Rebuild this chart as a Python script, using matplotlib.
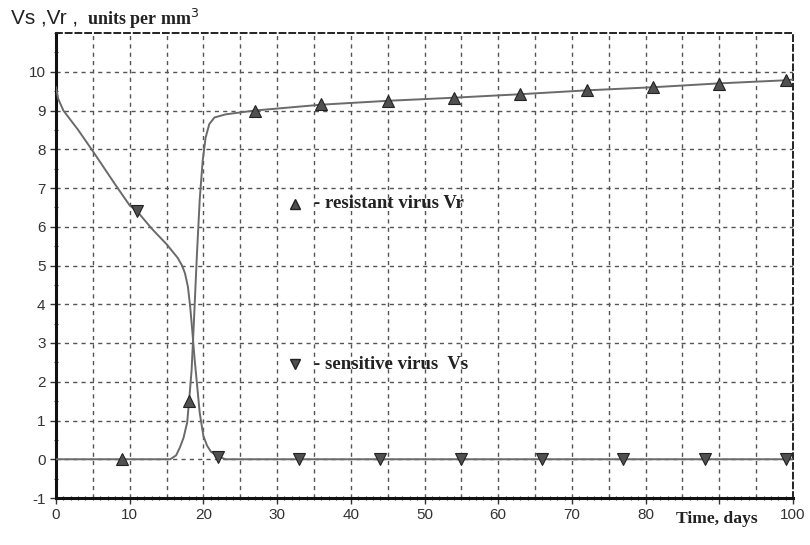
import matplotlib
matplotlib.use("Agg")
import matplotlib.pyplot as plt
from matplotlib.ticker import MultipleLocator

# ---- data ----
vs_curve_x = [0, 0.3, 1, 3, 5, 8, 10, 11, 13, 15, 16.5, 17.1, 17.5, 17.9, 18.2, 18.5, 18.8, 19.1, 19.5, 20, 20.5, 21, 22, 23, 100]
vs_curve_y = [9.6, 9.3, 9.0, 8.5, 7.95, 7.1, 6.55, 6.4, 5.95, 5.55, 5.2, 5.0, 4.8, 4.45, 3.95, 3.3, 2.6, 2.0, 1.2, 0.6, 0.35, 0.2, 0.07, 0, 0]

vr_curve_x = [0, 15.5, 16.3, 16.8, 17.3, 17.8, 18.1, 18.4, 18.7, 19.1, 19.5, 19.9, 20.3, 20.8, 21.5, 23, 25, 27, 36, 45, 54, 63, 72, 81, 90, 99, 100]
vr_curve_y = [0, 0, 0.1, 0.3, 0.55, 0.95, 1.6, 2.3, 3.5, 5.2, 6.7, 7.7, 8.3, 8.65, 8.82, 8.9, 8.95, 9.0, 9.15, 9.25, 9.33, 9.42, 9.52, 9.6, 9.7, 9.78, 9.8]

vr_mark_x = [9, 18, 27, 36, 45, 54, 63, 72, 81, 90, 99]
vr_mark_y = [0, 1.5, 9.0, 9.17, 9.25, 9.33, 9.42, 9.52, 9.6, 9.69, 9.78]

vs_mark_x = [11, 22, 33, 44, 55, 66, 77, 88, 99]
vs_mark_y = [6.4, 0.05, 0, 0, 0, 0, 0, 0, 0]

x_ticks = [0, 10, 20, 30, 40, 50, 60, 70, 80, 90, 100]
x_tick_labels = ["0", "10", "20", "30", "40", "50", "60", "70", "80", "", "100"]
y_ticks = [-1, 0, 1, 2, 3, 4, 5, 6, 7, 8, 9, 10]
y_tick_labels = ["-1", "0", "1", "2", "3", "4", "5", "6", "7", "8", "9", "10"]

W, H = 810, 545
fig = plt.figure(figsize=(W / 100, H / 100), dpi=100)
ax = fig.add_axes([56 / W, 1 - 498 / H, (793 - 56) / W, (498 - 33) / H])

line_col = "#6a6a6a"
mark_fc = "#505050"
mark_ec = "#222222"

ax.plot(vs_curve_x, vs_curve_y, color=line_col, lw=1.4, zorder=3)
ax.plot(vr_curve_x, vr_curve_y, color=line_col, lw=1.4, zorder=3)
ax.plot(vr_mark_x, vr_mark_y, ls="none", marker="^", ms=9, mfc=mark_fc, mec=mark_ec, mew=0.8, zorder=4)
ax.plot(vs_mark_x, vs_mark_y, ls="none", marker="v", ms=9, mfc=mark_fc, mec=mark_ec, mew=0.8, zorder=4)

ax.set_xlim(0, 100)
ax.set_ylim(-1, 11)
ax.set_xticks(x_ticks)
ax.set_xticklabels(x_tick_labels)
ax.set_yticks(y_ticks)
ax.set_yticklabels(y_tick_labels)
ax.xaxis.set_minor_locator(MultipleLocator(1))
ax.yaxis.set_minor_locator(MultipleLocator(0.5))

# grid: dashed every 5 on x, every 1 on y
for gx in range(5, 100, 5):
    ax.axvline(gx, color="#555555", lw=1.0, ls=(0, (3, 3)), zorder=1)
for gy in range(0, 11):
    ax.axhline(gy, color="#555555", lw=1.0, ls=(0, (3, 3)), zorder=1)

for s in ["left", "bottom"]:
    ax.spines[s].set_linewidth(2.2)
    ax.spines[s].set_color("#111111")
for s in ["top", "right"]:
    ax.spines[s].set_linewidth(1.4)
    ax.spines[s].set_linestyle((0, (3, 2)))
    ax.spines[s].set_color("#222222")

ax.tick_params(axis="both", which="major", direction="out", length=4, width=1, labelsize=11,
               labelcolor="#333333", color="#333333")
ax.tick_params(axis="both", which="minor", direction="inout", length=3, width=0.8, color="#444444")
for lab in ax.get_xticklabels() + ax.get_yticklabels():
    lab.set_fontfamily("Liberation Sans")

# legend-like annotations
ax.plot([32.4], [6.6], marker="^", ms=7, mfc=mark_fc, mec=mark_ec, ls="none", zorder=4)
ax.text(35.0, 6.6, "- resistant virus Vr", family="Liberation Serif", fontweight="bold",
        fontsize=13.5, va="center", ha="left", color="#222222")
ax.plot([32.4], [2.45], marker="v", ms=7, mfc=mark_fc, mec=mark_ec, ls="none", zorder=4)
ax.text(35.0, 2.45, "- sensitive virus  Vs", family="Liberation Serif", fontweight="bold",
        fontsize=13.5, va="center", ha="left", color="#222222")

# axis titles
fig.text(11 / W, 1 - 18 / H, "Vs ,Vr ,", family="Liberation Sans", fontsize=15,
         va="center", ha="left", color="#222222")
fig.text(87 / W, 1 - 19 / H, "units per mm$^3$", family="Liberation Serif", fontweight="bold",
         fontsize=13, va="center", ha="left", color="#222222")
fig.text(676 / W, 1 - 519 / H, "Time, days", family="Liberation Serif", fontweight="bold",
         fontsize=12.6, va="center", ha="left", color="#222222")

fig.savefig("out.png", dpi=100)
